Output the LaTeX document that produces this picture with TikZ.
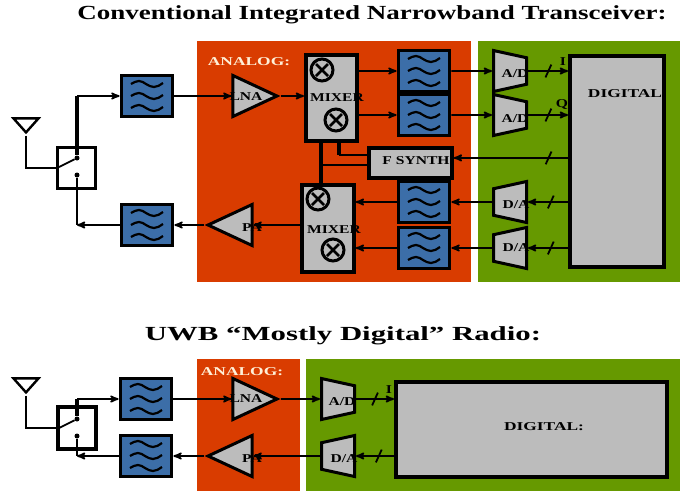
\documentclass[tikz,border=0pt]{standalone}
\usepackage{fontspec}
\setmainfont{Liberation Serif}
\usepackage{tikz}
\usetikzlibrary{positioning,arrows,shapes.geometric,shapes.misc}

\definecolor{analogred}{HTML}{D93C00}
\definecolor{digitalgreen}{HTML}{669900}
\definecolor{blockgrey}{HTML}{BCBCBC}
\definecolor{filterblue}{HTML}{3C6EA8}
\definecolor{paletext}{HTML}{FFF0D8}

\tikzset{
  panel/.style={anchor=north west,inner sep=0pt,draw=none},
  blocklabel/.style={font=\bfseries\fontsize{12}{12}\selectfont,text=black,inner sep=0pt,xscale=1.3},
  widelabel/.style={font=\bfseries\fontsize{12}{12}\selectfont,inner sep=0pt,xscale=1.45},
  titlelabel/.style={font=\bfseries\fontsize{20}{20}\selectfont,inner sep=0pt},
  filterbox/.style={draw=black,line width=3.8pt,fill=filterblue,minimum width=51pt,minimum height=41pt,inner sep=0pt,
    path picture={
      \foreach \yy in {-12,0,12}
        \draw[line width=2.2pt,shift={(path picture bounding box.center)}]
          (-16,\yy) sin (-8,\yy-3) cos (-1,\yy) sin (7,\yy+3) cos (16,\yy-1);
    }},
  greybox/.style={draw=black,line width=3.8pt,fill=blockgrey,anchor=north west,inner sep=0pt},
  crossring/.style={circle,draw=black,line width=3pt,fill=blockgrey,minimum size=22pt,inner sep=0pt,
    path picture={
      \draw[line width=2.6pt] ([shift={(-6,-6)}]path picture bounding box.center) -- ([shift={(6,6)}]path picture bounding box.center)
                              ([shift={(6,-6)}]path picture bounding box.center) -- ([shift={(-6,6)}]path picture bounding box.center);
    }},
  ampshape/.style={isosceles triangle,isosceles triangle stretches=true,draw=black,line width=3pt,fill=blockgrey,inner sep=0pt,minimum width=41pt,minimum height=44pt},
  convshape/.style={trapezium,trapezium stretches=true,trapezium angle=76,draw=black,line width=3pt,fill=blockgrey,inner sep=0pt,minimum width=41pt,minimum height=33pt,execute at begin node={\phantom{x}}},
  antshape/.style={isosceles triangle,isosceles triangle stretches=true,shape border rotate=270,draw=black,line width=2.4pt,fill=white,inner sep=0pt,minimum width=25pt,minimum height=14pt},
  switchbox/.style={draw=black,line width=3pt,fill=white,minimum width=38pt,inner sep=0pt},
  terminal/.style={circle,fill=black,inner sep=0pt,minimum size=5pt},
  busmark/.style={strike out,draw=black,line width=1.8pt,inner sep=0pt,minimum width=4pt,minimum height=11pt},
  signal/.style={->,>=stealth',line width=1.8pt},
  wire/.style={line width=1.8pt},
  heavywire/.style={line width=4pt}
}

\begin{document}
\begin{tikzpicture}[x=1pt,y=-1pt]
  \useasboundingbox (0,0) rectangle (680,491);

  % titles
  \node[titlelabel,xscale=1.35] (titleA) at (372,15)  {Conventional Integrated Narrowband Transceiver:};
  \node[titlelabel,xscale=1.54] (titleB) at (343,336) {UWB “Mostly Digital” Radio:};

  % panels
  \node[panel,fill=analogred,minimum width=274pt,minimum height=241pt]    (analogA)  at (197,41)  {};
  \node[panel,fill=digitalgreen,minimum width=202pt,minimum height=241pt] (digitalA) at (478,41)  {};
  \node[panel,fill=analogred,minimum width=103pt,minimum height=132pt]    (analogB)  at (197,359) {};
  \node[panel,fill=digitalgreen,minimum width=374pt,minimum height=132pt] (digitalB) at (306,359) {};
  \node[widelabel,text=paletext] (analogtxtA) at (249,62)  {ANALOG:};
  \node[widelabel,text=paletext] (analogtxtB) at (242,372) {ANALOG:};

  % upper receiver and transmitter
  \node[antshape]                               (antA)   at (26,124)   {};
  \node[switchbox,minimum height=41pt]          (swA)    at (76.5,168) {};
  \node[terminal]                               (swupA)  at (77,158)   {};
  \node[terminal]                               (swdnA)  at (77,175)   {};
  \coordinate                                   (swinA)  at (59,167);
  \coordinate                                   (swrxA)  at (77,96);
  \coordinate                                   (swtxA)  at (77,225);
  \node[filterbox]                              (rxfA)   at (147,96)   {};
  \node[filterbox]                              (txfA)   at (147,225)  {};
  \node[ampshape]                               (lnaA)   at (246,96)   {};
  \node[ampshape,shape border rotate=180]       (paA)    at (239,225)  {};
  \node[greybox,minimum width=51pt,minimum height=86pt] (mixiA) at (304,53)  {};
  \node[greybox,minimum width=52pt,minimum height=87pt] (mixoA) at (300,183) {};
  \node[crossring]                              (mulaA)  at (322,70)   {};
  \node[crossring]                              (mulbA)  at (336,120)  {};
  \node[crossring]                              (mulcA)  at (318,199)  {};
  \node[crossring]                              (muldA)  at (333,250)  {};
  \node[filterbox]                              (fltaA)  at (424,71)   {};
  \node[filterbox]                              (fltbA)  at (424,115)  {};
  \node[filterbox]                              (fltcA)  at (424,202)  {};
  \node[filterbox]                              (fltdA)  at (424,248)  {};
  \node[greybox,minimum width=83pt,minimum height=30pt] (synth) at (367,146) {};
  \node[convshape,shape border rotate=270]      (adaA)   at (510,71)   {};
  \node[convshape,shape border rotate=270]      (adbA)   at (510,115)  {};
  \node[convshape,shape border rotate=90]       (daaA)   at (510,202)  {};
  \node[convshape,shape border rotate=90]       (dabA)   at (510,248)  {};
  \node[greybox,minimum width=94pt,minimum height=211pt] (dspA) at (568,54) {};

  \draw[wire]      (antA.apex) |- (swA.west);
  \draw[wire]      (swinA) -- (swupA);
  \draw[heavywire] (swupA) -- (swrxA);
  \draw[signal]    (swrxA) -- (rxfA);
  \draw[wire]      (swdnA) -- (swtxA);
  \draw[signal]    (txfA) -- (swtxA);
  \draw[signal]    (rxfA) -- (lnaA.west);
  \draw[signal]    (lnaA.apex) -- (lnaA.apex -| mixiA.west);
  \draw[signal]    (mixoA.west |- paA) -- (paA.east);
  \draw[signal]    (paA.apex) -- (txfA);
  \draw[signal]    (mixiA.east |- fltaA) -- (fltaA);
  \draw[signal]    (mixiA.east |- fltbA) -- (fltbA);
  \draw[signal]    (fltcA) -- (fltcA -| mixoA.east);
  \draw[signal]    (fltdA) -- (fltdA -| mixoA.east);
  \draw[signal]    (fltaA) -- (adaA.west);
  \draw[signal]    (fltbA) -- (adbA.west);
  \draw[signal]    (daaA.west) -- (fltcA);
  \draw[signal]    (dabA.west) -- (fltdA);
  \draw[signal]    (adaA.east) -- node[busmark,pos=0.51] (busaA) {} (adaA -| dspA.west);
  \draw[signal]    (adbA.east) -- node[busmark,pos=0.51] (busbA) {} (adbA -| dspA.west);
  \draw[signal]    (dspA.west |- daaA) -- node[busmark,pos=0.43] (buscA) {} (daaA.east);
  \draw[signal]    (dspA.west |- dabA) -- node[busmark,pos=0.43] (busdA) {} (dabA.east);
  \draw[signal]    (dspA.west |- synth) ++(0,-5) coordinate (synthin) -- node[busmark,pos=0.17] (buseA) {} (synthin -| synth.east);
  \coordinate (loa) at (321,165);
  \coordinate (lob) at (339,155);
  \draw[heavywire] (mixiA.south -| loa) -- (mixoA.north -| loa);
  \draw[wire]      (loa) -- (loa -| synth.west);
  \draw[heavywire] (mixiA.south -| lob) -- (lob);
  \draw[wire]      (lob) -- (lob -| synth.west);

  % labels of the upper part
  \node[blocklabel] (lnatxtA)   at (246,97)  {LNA};
  \node[blocklabel] (patxtA)    at (252,228) {PA};
  \node[blocklabel] (mixitxtA)  at (337,98)  {MIXER};
  \node[blocklabel] (mixotxtA)  at (334,230) {MIXER};
  \node[blocklabel] (synthtxt)  at (416,161) {F SYNTH};
  \node[blocklabel] (adatxtA)   at (515,74)  {A/D};
  \node[blocklabel] (adbtxtA)   at (515,119) {A/D};
  \node[blocklabel] (daatxtA)   at (516,205) {D/A};
  \node[blocklabel] (dabtxtA)   at (516,248) {D/A};
  \node[blocklabel] (itxtA)     at (563,62)  {I};
  \node[blocklabel] (qtxtA)     at (562,104) {Q};
  \node[widelabel]  (dsptxtA)   at (625,94)  {DIGITAL};

  % lower radio
  \node[antshape]                               (antB)   at (26,384)   {};
  \node[switchbox,minimum height=42pt,line width=3.6pt] (swB) at (77,428) {};
  \node[terminal]                               (swupB)  at (77,419)   {};
  \node[terminal]                               (swdnB)  at (77,436)   {};
  \coordinate                                   (swinB)  at (59,428);
  \coordinate                                   (swrxB)  at (77,399);
  \coordinate                                   (swtxB)  at (77,456);
  \node[filterbox]                              (rxfB)   at (146,399)  {};
  \node[filterbox]                              (txfB)   at (146,456)  {};
  \node[ampshape]                               (lnaB)   at (246,399)  {};
  \node[ampshape,shape border rotate=180]       (paB)    at (239,456)  {};
  \node[convshape,shape border rotate=270]      (adaB)   at (338,399)  {};
  \node[convshape,shape border rotate=90]       (daaB)   at (338,456)  {};
  \node[greybox,minimum width=271pt,minimum height=95pt] (dspB) at (394,380) {};

  \draw[wire]      (antB.apex) |- (swB.west);
  \draw[wire]      (swinB) -- (swupB);
  \draw[heavywire] (swupB) -- (swrxB);
  \draw[signal]    (swrxB) -- (rxfB);
  \draw[wire]      (swdnB) -- (swtxB);
  \draw[signal]    (txfB) -- (swtxB);
  \draw[signal]    (rxfB) -- (lnaB.west);
  \draw[signal]    (lnaB.apex) -- (adaB.west);
  \draw[signal]    (adaB.east) -- node[busmark,pos=0.5] (busaB) {} (adaB -| dspB.west);
  \draw[signal]    (dspB.west |- daaB) -- node[busmark,pos=0.4] (busbB) {} (daaB.east);
  \draw[signal]    (daaB.west) -- (paB.east);
  \draw[signal]    (paB.apex) -- (txfB);

  % labels of the lower part
  \node[blocklabel] (lnatxtB)   at (246,399) {LNA};
  \node[blocklabel] (patxtB)    at (252,459) {PA};
  \node[blocklabel] (adatxtB)   at (342,402) {A/D};
  \node[blocklabel] (daatxtB)   at (344,459) {D/A};
  \node[blocklabel] (itxtB)     at (389,390) {I};
  \node[widelabel]  (dsptxtB)   at (544,427) {DIGITAL:};
\end{tikzpicture}
\end{document}
